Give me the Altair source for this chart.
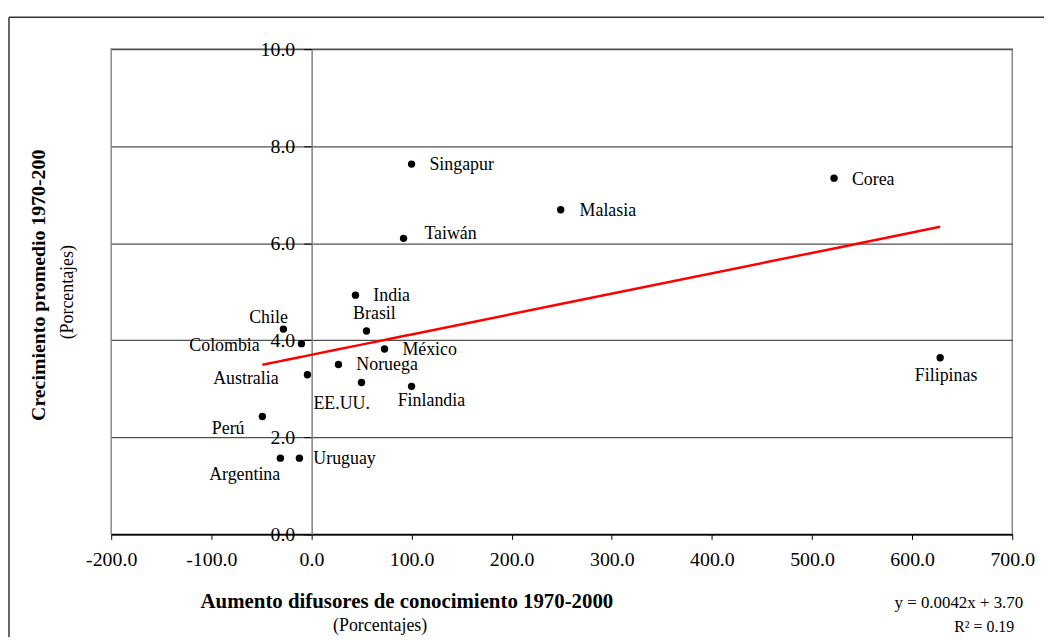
import altair as alt
import pandas as pd

# ---- data ----
paises = ["Singapur", "Corea", "Malasia", "Taiwán", "India", "Brasil", "Chile",
          "Colombia", "México", "Noruega", "Australia", "EE.UU.", "Finlandia",
          "Filipinas", "Perú", "Argentina", "Uruguay"]
difusores = [100, 522, 249, 92, 44, 55, -28, -10, 73, 27, -4, 50, 100, 628, -49, -31, -12]
crecimiento = [7.63, 7.34, 6.69, 6.10, 4.93, 4.19, 4.23, 3.93, 3.82, 3.50, 3.29,
               3.13, 3.05, 3.64, 2.43, 1.57, 1.57]
pendiente = 0.0042
intercepto = 3.70
r2 = 0.19
x_ticks = [-200, -100, 0, 100, 200, 300, 400, 500, 600, 700]
y_ticks = [0, 2, 4, 6, 8, 10]

titulo_y = "Crecimiento promedio 1970-200"
titulo_x = "Aumento difusores de conocimiento 1970-2000"
subtitulo = "(Porcentajes)"
ecuacion = f"y = {pendiente}x + {intercepto:.2f}"
r2_texto = f"R² = {r2}"

df = pd.DataFrame({"pais": paises, "x": difusores, "y": crecimiento})

FONT = "Liberation Serif"

# label placement (align, dx, dy) per country
label_pos = {
    "Singapur": ("left", 18, 1), "Corea": ("left", 18, 2), "Malasia": ("left", 19, 1),
    "Taiwán": ("left", 21, -4), "India": ("left", 18, 1), "Brasil": ("center", 8, -17),
    "Chile": ("center", -15, -11), "Colombia": ("right", -42, 2), "México": ("left", 18, 1),
    "Noruega": ("left", 18, 1), "Australia": ("right", -29, 4), "EE.UU.": ("center", -20, 22),
    "Finlandia": ("center", 20, 15), "Filipinas": ("center", 6, 18), "Perú": ("right", -18, 13),
    "Argentina": ("center", -36, 17), "Uruguay": ("left", 14, 1),
}

label_expr = "replace(format(datum.value, '.1f'), '\u2212', '-')"

xs = alt.Scale(domain=[-200, 700], nice=False, zero=False)
ys = alt.Scale(domain=[0, 10], nice=False)

x_enc = alt.X("x:Q", scale=xs, axis=alt.Axis(
    values=x_ticks, labelExpr=label_expr, title=None, grid=False, domainColor="black",
    domainWidth=1.5, tickColor="black", tickSize=5, labelFont=FONT, labelFontSize=20,
    labelColor="black", labelPadding=10, labelFlush=False))
y_axis = alt.Axis(values=y_ticks, format=".1f", title=None, grid=True, gridColor="#505050",
                  gridWidth=1.2, domainColor="#808080", domainWidth=1.5, tickColor="black",
                  tickSize=8, labelFont=FONT, labelFontSize=20, labelColor="black",
                  labelPadding=9, offset=-202, labelFlush=False)
y_enc = alt.Y("y:Q", scale=ys, axis=y_axis)

base = alt.Chart(df)

points = base.mark_circle(size=55, color="black", opacity=1).encode(x=x_enc, y=y_enc)

fit = base.transform_calculate(
    fit=f"{intercepto} + {pendiente} * datum.x"
).mark_line(color="#ff0000", strokeWidth=2.5).encode(
    x=x_enc, y=alt.Y("fit:Q", scale=ys, axis=y_axis))

labels = []
for p in paises:
    al, dx, dy = label_pos[p]
    labels.append(
        base.transform_filter(alt.datum.pais == p).mark_text(
            align=al, baseline="middle", dx=dx, dy=dy, font=FONT, fontSize=18, color="black"
        ).encode(x=x_enc, y=y_enc, text="pais:N")
    )

one = pd.DataFrame({"a": [0]})
tdf = pd.DataFrame({"ty": [titulo_y], "tx": [titulo_x], "sub": [subtitulo],
                    "eq": [ecuacion], "r2": [r2_texto]})

frame_left = alt.Chart(one).mark_rule(color="#333333", strokeWidth=1.5).encode(
    x=alt.value(-103), y=alt.value(-32), y2=alt.value(600))
frame_top = alt.Chart(one).mark_rule(color="#333333", strokeWidth=1.5).encode(
    x=alt.value(-103), x2=alt.value(945), y=alt.value(-32))

ytitle = alt.Chart(tdf).mark_text(angle=270, font=FONT, fontSize=20, fontWeight="bold",
                                  baseline="middle", align="center").encode(
    x=alt.value(-73), y=alt.value(238), text="ty:N")
ysub = alt.Chart(tdf).mark_text(angle=270, font=FONT, fontSize=18,
                                baseline="middle", align="center").encode(
    x=alt.value(-44), y=alt.value(245), text="sub:N")
xtitle = alt.Chart(tdf).mark_text(font=FONT, fontSize=21, fontWeight="bold",
                                  baseline="middle", align="center").encode(
    x=alt.value(298), y=alt.value(557), text="tx:N")
xsub = alt.Chart(tdf).mark_text(font=FONT, fontSize=18,
                                baseline="middle", align="center").encode(
    x=alt.value(271), y=alt.value(581), text="sub:N")
eq = alt.Chart(tdf).mark_text(font=FONT, fontSize=17, baseline="middle", align="right").encode(
    x=alt.value(919), y=alt.value(558), text="eq:N")
r2t = alt.Chart(tdf).mark_text(font=FONT, fontSize=16, baseline="middle", align="right").encode(
    x=alt.value(910), y=alt.value(582), text="r2:N")

chart = alt.layer(
    fit, points, *labels, frame_left, frame_top, ytitle, ysub, xtitle, xsub, eq, r2t
).properties(
    width=908, height=489,
    autosize=alt.AutoSizeParams(type="none"),
    padding={"left": 104, "top": 39, "right": 32, "bottom": 101},
    background="white",
).configure_view(stroke="#8a8a8a", strokeWidth=1.5)

chart.save("out.html", embed_options={"renderer": "svg", "actions": False})
